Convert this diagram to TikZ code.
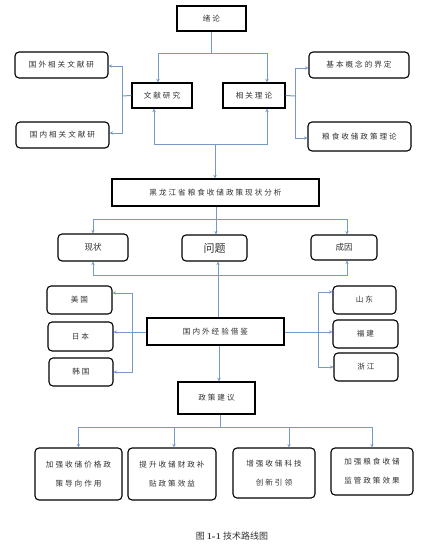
\documentclass[tikz,border=0pt]{standalone}
\usepackage{fontspec}
\usepackage{xcolor}
\usetikzlibrary{arrows.meta}
\newfontfamily\cjk[LetterSpace=26]{Noto Sans CJK SC}
\newfontfamily\cjktight{Noto Sans CJK SC}
\definecolor{linkblue}{RGB}{118,154,200}
\definecolor{txtgray}{RGB}{50,50,50}

\begin{document}
\begin{tikzpicture}[x=1pt,y=1pt,yscale=-1,xscale=1,
    sharpbox/.style={draw=black,line width=1.3pt,fill=white,inner sep=0pt,text=txtgray,font=\cjk\fontsize{7.6}{19}\selectfont},
    roundbox/.style={sharpbox,rounded corners=4pt,line width=1.1pt},
    conn/.style={draw=linkblue,line width=1pt},
    arr/.style={conn,-{Stealth[length=3.5pt,width=3.5pt]}}]
    \useasboundingbox (0,0) rectangle (437,546);

    %Shape: Rectangle [top]
    \node [sharpbox,minimum width=69,minimum height=25] (xulun) at (211.5,18.5) {绪论};
    \node [sharpbox,minimum width=60,minimum height=25] (wenxian) at (162,95.5) {文献研究};
    \node [sharpbox,minimum width=62,minimum height=25] (lilunbox) at (254,95.5) {相关理论};
    %Shape: Rounded Rectangle [literature]
    \node [roundbox,minimum width=93,minimum height=26] (guowai) at (61.5,65) {国外相关文献研};
    \node [roundbox,minimum width=93,minimum height=26] (guonei) at (62.5,135) {国内相关文献研};
    \node [roundbox,minimum width=100,minimum height=26] (gainian) at (359,65) {基本概念的界定};
    \node [roundbox,minimum width=103,minimum height=29] (shouchu) at (359.5,136.5) {粮食收储政策理论};

    %Shape: Rectangle [analysis]
    \node [sharpbox,minimum width=207,minimum height=27] (fenxi) at (215.5,192.5) {黑龙江省粮食收储政策现状分析};
    \node [roundbox,minimum width=70,minimum height=27,font=\cjktight\fontsize{8.5}{10}\selectfont] (xzbox) at (93,247.5) {现状};
    \node [roundbox,minimum width=65,minimum height=26,font=\cjktight\fontsize{11}{12}\selectfont] (wenti) at (214.5,248) {问题};
    \node [roundbox,minimum width=66,minimum height=25,font=\cjktight\fontsize{8.5}{10}\selectfont] (chengyin) at (344,247.5) {成因};

    %Shape: Rectangle [experience]
    \node [sharpbox,minimum width=137,minimum height=27] (jingyan) at (215.5,331.5) {国内外经验借鉴};
    \node [roundbox,minimum width=65,minimum height=28] (meiguo) at (79.5,300) {美国};
    \node [roundbox,minimum width=65,minimum height=29] (riben) at (80.5,336.5) {日本};
    \node [roundbox,minimum width=64,minimum height=28] (hanguo) at (81,372) {韩国};
    \node [roundbox,minimum width=63,minimum height=28] (shandong) at (364.5,300) {山东};
    \node [roundbox,minimum width=65,minimum height=28] (fujian) at (365.5,334) {福建};
    \node [roundbox,minimum width=64,minimum height=28] (zhejiang) at (366,367) {浙江};

    %Shape: Rectangle [suggestions]
    \node [sharpbox,minimum width=77,minimum height=32] (jianyi) at (216.5,398) {政策建议};
    \node [roundbox,minimum width=87,minimum height=52,align=center] (jiageb) at (78.5,474) {加强收储价格政\\策导向作用};
    \node [roundbox,minimum width=88,minimum height=52,align=center] (caizhengb) at (172,474) {提升收储财政补\\贴政策效益};
    \node [roundbox,minimum width=82,minimum height=50,align=center] (kejib) at (274,473) {增强收储科技\\创新引领};
    \node [roundbox,minimum width=82,minimum height=47,align=center] (jianguanb) at (372,471.5) {加强粮食收储\\监管政策效果};

    %Straight Lines [top level]
    \coordinate (j1) at (211.5,53);
    \draw [conn] (xulun.south) -- (j1);
    \draw [arr] (j1) -| ([xshift=-4]wenxian.north);
    \draw [arr] (j1) -| ([xshift=13]lilunbox.north);
    \coordinate (j2) at (122,96);
    \draw [conn] (wenxian.west) -- (j2);
    \draw [arr] (j2) |- ([yshift=1]guowai.east);
    \draw [arr] (j2) |- ([yshift=-2]guonei.east);
    \coordinate (j3) at (295,96);
    \draw [conn] (lilunbox.east) -- (j3);
    \draw [arr] (j3) |- ([yshift=3]gainian.west);
    \draw [arr] (j3) |- ([yshift=1.5]shouchu.west);
    %Straight Lines [back to research]
    \coordinate (j4) at (215,144);
    \draw [arr] (j4) -- (j4 |- fenxi.north);
    \draw [arr] (j4) -| ([xshift=-8]wenxian.south);
    \draw [arr] (j4) -| ([xshift=13]lilunbox.south);

    %Straight Lines [analysis]
    \coordinate (j5) at (216,219);
    \draw [arr] (j5 |- fenxi.south) -- (j5 |- wenti.north);
    \draw [arr] (j5) -| (xzbox.north);
    \draw [arr] (j5) -| ([xshift=3]chengyin.north);
    \coordinate (j6) at (218,275);
    \draw [arr] (j6 |- jingyan.north) -- (j6 |- wenti.south);
    \draw [arr] (j6) -| (xzbox.south);
    \draw [arr] (j6) -| ([xshift=3]chengyin.south);

    %Straight Lines [experience]
    \coordinate (j7) at (132,332);
    \draw [arr] (jingyan.west |- j7) -- (riben.east |- j7);
    \draw [arr] ([yshift=-25]j7) |- ([yshift=-7]meiguo.east);
    \draw [arr] ([yshift=-25]j7) |- (hanguo.east);
    \coordinate (j8) at (318,332);
    \draw [arr] (jingyan.east |- j8) -- (fujian.west |- j8);
    \draw [arr] ([yshift=-24]j8) |- ([yshift=-8]shandong.west);
    \draw [arr] ([yshift=-24]j8) |- (zhejiang.west);
    \coordinate (j10) at (219,360);
    \draw [arr] (j10 |- jingyan.south) -- (j10 |- jianyi.north);

    %Straight Lines [suggestions]
    \coordinate (j9) at (220,427);
    \draw [conn] (j9 |- jianyi.south) -- (j9);
    \draw [arr] (j9) -| (jiageb.north);
    \draw [arr] (j9) -| ([xshift=2]caizhengb.north);
    \draw [arr] (j9) -| ([xshift=15]kejib.north);
    \draw [arr] (j9) -| (jianguanb.north);

    % Text Node
    \node [text=txtgray,font=\cjktight\fontsize{9}{11}\selectfont] (caption) at (232,536) {图 {\fontspec{Latin Modern Roman}\bfseries 1-1} 技术路线图};
\end{tikzpicture}
\end{document}
